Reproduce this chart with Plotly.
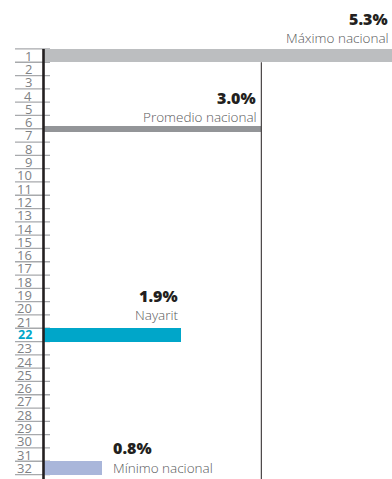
import plotly.graph_objects as go

# State ranking positions shown on the left (1 = highest)
ranks = list(range(1, 33))
highlight_rank = 22

# Reference bars: national max, national average, Nayarit, national min
bar_names = ["Máximo nacional", "Promedio nacional", "Nayarit", "Mínimo nacional"]
bar_values = [5.3, 3.0, 1.9, 0.8]
bar_ranks = [1, 6.5, 22, 32]
bar_labels = ["5.3%", "3.0%", "1.9%", "0.8%"]

# Styling
bar_colors = ["#bcbec0", "#939598", "#00a6c9", "#a9b6da"]
bar_thickness = [1.0, 0.42, 1.0, 1.0]
DARK = "#231f20"
GRAY_TXT = "#58595b"
TICK_TXT = "#808285"
SEP = "#a7a9ac"
FONT = "Open Sans"
TICK_FONT = "Liberation Sans Narrow, Open Sans"

W, H = 392, 479
X0_PX, PX_PER_UNIT = 43.5, 72.6
ROW1_PX, PX_PER_ROW = 55.6, 13.3


def px_to_x(px):
    return (px - X0_PX) / PX_PER_UNIT


x_range = [px_to_x(0), px_to_x(W)]
y_top = 1 - ROW1_PX / PX_PER_ROW
y_bottom = 1 + (H - ROW1_PX) / PX_PER_ROW

fig = go.Figure()
fig.add_trace(go.Bar(
    orientation="h",
    x=bar_values,
    y=bar_ranks,
    base=0,
    width=bar_thickness,
    marker=dict(color=bar_colors, line=dict(width=0)),
    hoverinfo="skip",
))

shapes = []
# row separators on the ranking column
for r in range(0, len(ranks) + 1):
    shapes.append(dict(type="line", xref="x", yref="y",
                       x0=px_to_x(15), x1=px_to_x(50), y0=r + 0.5, y1=r + 0.5,
                       line=dict(color=SEP, width=1.3), layer="below"))
# zero axis
shapes.append(dict(type="line", xref="x", yref="y", x0=0, x1=0,
                   y0=0.5, y1=y_bottom, line=dict(color=DARK, width=2.6), layer="above"))
# national average reference line
shapes.append(dict(type="line", xref="x", yref="y", x0=bar_values[1], x1=bar_values[1],
                   y0=1.5, y1=y_bottom, line=dict(color=DARK, width=1), layer="above"))

annotations = []
# ranking numbers
for r in ranks:
    if r == highlight_rank:
        txt = f"<b>{r}</b>"
        font = dict(family=FONT, size=12.5, color=bar_colors[2])
    else:
        txt = str(r)
        font = dict(family=TICK_FONT, size=13, color=TICK_TXT)
    annotations.append(dict(x=px_to_x(34), y=r, xref="x", yref="y", text=txt,
                            showarrow=False, xanchor="right", yanchor="middle",
                            font=font))

num_font = dict(family=FONT, size=16, color=DARK, weight=800)
name_font = dict(family=FONT, size=13.5, color=GRAY_TXT, weight=300)

# (x, xref, xanchor, xshift, value yshift, name yshift) for each labelled bar
label_spots = [
    (1, "paper", "right", -2, 37, 18),
    (bar_values[1], "x", "right", -3, 31, 12),
    (bar_values[2], "x", "right", -1, 39, 20),
    (bar_values[3], "x", "left", 9, 20, 0),
]
for i, (lx, lref, anchor, dx, dy_val, dy_name) in enumerate(label_spots):
    annotations.append(dict(x=lx, xref=lref, y=bar_ranks[i], yref="y", text=bar_labels[i],
                            showarrow=False, xanchor=anchor, yanchor="middle",
                            xshift=dx, yshift=dy_val, font=num_font))
    annotations.append(dict(x=lx, xref=lref, y=bar_ranks[i], yref="y", text=bar_names[i],
                            showarrow=False, xanchor=anchor, yanchor="middle",
                            xshift=dx + (1 if anchor == "right" else 0), yshift=dy_name,
                            font=name_font))

fig.update_layout(
    width=W, height=H,
    margin=dict(l=0, r=0, t=0, b=0),
    paper_bgcolor="white", plot_bgcolor="white",
    showlegend=False,
    bargap=0,
    hovermode=False,
    xaxis=dict(range=x_range, visible=False, fixedrange=True),
    yaxis=dict(range=[y_bottom, y_top], visible=False, fixedrange=True),
    shapes=shapes,
    annotations=annotations,
)

fig.write_html("out.html", config={"displayModeBar": False})
